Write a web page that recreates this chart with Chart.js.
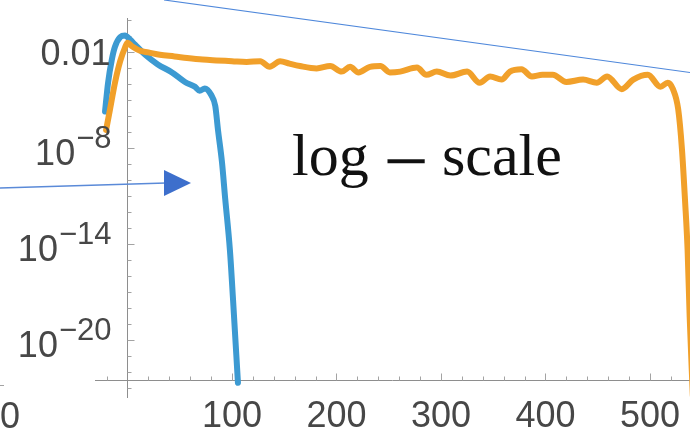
<!DOCTYPE html>
<html>
<head>
<meta charset="utf-8">
<script src="https://cdn.jsdelivr.net/npm/chart.js@4.4.1/dist/chart.umd.min.js"></script>
<style>
  html, body { margin: 0; padding: 0; background: #ffffff; }
  canvas { display: block; }
</style>
</head>
<body>
<canvas id="plot" width="690" height="437"></canvas>
<script>
// Blue curve: sample positions and log10 of the value at each
const blueX = [-21.5, -18.6, -15, -12, -7, -2.4, 2.4, 7, 17, 29, 42.6, 55, 64.6, 69, 74, 80, 84, 86.6, 90.4, 93.5, 98, 101, 105.7];
const blueLog10 = [-5.75, -3.95, -2.5, -1.7, -1.1, -1.0, -1.25, -1.55, -2.2, -2.8, -3.3, -3.9, -4.2, -4.45, -4.3, -4.7, -5.4, -6.9, -8.9, -11.2, -14.4, -17.5, -22.7];

// Orange curve: sample positions and log10 of the value at each
const orangeX = [-20.5, -16.7, -12, -7, -2.4, 0, 5, 12, 20, 31, 45, 57, 72, 85, 100, 114, 127, 136, 146, 155, 165, 181, 194, 205, 213, 221, 232, 242, 251, 261, 277, 286, 296, 309, 325, 337, 347, 358, 366, 377, 387, 397, 407, 420, 436, 449, 459, 473, 484, 498, 510, 517, 522, 527, 530.6, 533.5, 536, 538, 541];
const orangeLog10 = [-6.9, -5.6, -3.95, -2.6, -1.75, -1.45, -1.7, -1.95, -2.05, -2.2, -2.3, -2.4, -2.5, -2.55, -2.6, -2.65, -2.6, -2.95, -2.6, -2.75, -2.9, -3.05, -2.9, -3.25, -2.95, -3.3, -2.95, -2.9, -3.3, -3.25, -3.0, -3.45, -3.25, -3.5, -3.25, -3.95, -3.55, -3.75, -3.25, -3.1, -3.55, -3.45, -3.45, -3.9, -3.75, -3.95, -3.55, -4.35, -3.75, -3.45, -4.2, -3.95, -4.35, -5.6, -8.1, -11.25, -14.4, -18.6, -23.5];

// Axis ticks
const xTickLabels = [100, 200, 300, 400, 500];
const xMinorTicks = [-20, 20, 40, 60, 80, 120, 140, 160, 180, 220, 240, 260, 280, 320, 340, 360, 380, 420, 440, 460, 480, 520];
const yTickExponents = [-2, -8, -14, -20];
const yTickLabels = [['0.01', ''], ['10', '\u22128'], ['10', '\u221214'], ['10', '\u221220']];
const yMinorExponents = [0, -1, -3, -4, -5, -6, -7, -9, -10, -11, -12, -13, -15, -16, -17, -18, -19, -21, -22, -23];

// Plot range (log10 for the vertical axis) and where the axes cross
const xRange = [-31.1, 538.3];
const yRangeLog10 = [-23.65, 0.1];
const xAxisAtLog10 = -22.5;

const toPoints = (xs, ls) => xs.map((x, i) => ({ x: x, y: Math.pow(10, ls[i]) }));

const BLUE = '#3c9ad2';
const ORANGE = '#f1a02a';
const AXIS = '#8e8e8e';
const LABEL = '#474747';
const SANS = '"Liberation Sans", Arial, sans-serif';
const SERIF = '"Liberation Serif", "Times New Roman", serif';

const mathAxes = {
  id: 'mathAxes',
  beforeDatasetsDraw(chart) {
    const { ctx, chartArea: a, scales: { x, y } } = chart;
    const x0 = Math.round(x.getPixelForValue(0)) + 0.5;
    const y0 = Math.round(y.getPixelForValue(Math.pow(10, xAxisAtLog10))) + 0.5;
    ctx.save();
    ctx.lineWidth = 1;
    ctx.strokeStyle = AXIS;
    ctx.beginPath();
    ctx.moveTo(a.left, y0); ctx.lineTo(a.right, y0);
    ctx.moveTo(x0, a.top); ctx.lineTo(x0, a.bottom);
    ctx.stroke();

    ctx.strokeStyle = '#a3a3a3';
    ctx.beginPath();
    xTickLabels.forEach(v => {
      const px = Math.round(x.getPixelForValue(v)) + 0.5;
      ctx.moveTo(px, y0); ctx.lineTo(px, y0 - 7);
    });
    xMinorTicks.forEach(v => {
      const px = Math.round(x.getPixelForValue(v)) + 0.5;
      ctx.moveTo(px, y0); ctx.lineTo(px, y0 - 4);
    });
    yTickExponents.forEach(e => {
      const py = Math.round(y.getPixelForValue(Math.pow(10, e))) + 0.5;
      ctx.moveTo(x0, py); ctx.lineTo(x0 + 7, py);
    });
    yMinorExponents.forEach(e => {
      const py = Math.round(y.getPixelForValue(Math.pow(10, e))) + 0.5;
      ctx.moveTo(x0, py); ctx.lineTo(x0 + 4, py);
    });
    ctx.stroke();
    ctx.restore();
  },
  afterDraw(chart) {
    const { ctx, scales: { x, y } } = chart;
    const x0 = x.getPixelForValue(0);
    ctx.save();
    ctx.fillStyle = LABEL;

    // horizontal tick labels
    ctx.font = '36px ' + SANS;
    ctx.textAlign = 'center';
    ctx.textBaseline = 'alphabetic';
    xTickLabels.forEach(v => {
      ctx.fillText(String(v), x.getPixelForValue(v), 427);
    });
    // label and tick of the neighbouring panel at the left edge
    ctx.textAlign = 'right';
    ctx.fillText('500', 20, 428);
    ctx.strokeStyle = '#a3a3a3';
    ctx.beginPath(); ctx.moveTo(0, 385.5); ctx.lineTo(4, 385.5); ctx.stroke();

    // vertical tick labels, powers of ten with raised exponents
    const right = x0 - 16;
    yTickExponents.forEach((e, i) => {
      const py = y.getPixelForValue(Math.pow(10, e));
      const [base, sup] = yTickLabels[i];
      if (!sup) {
        ctx.font = '36px ' + SANS;
        ctx.textAlign = 'right';
        ctx.fillText(base, right - 1, py + 13);
        return;
      }
      ctx.font = '31px ' + SANS;
      ctx.textAlign = 'right';
      const supW = ctx.measureText(sup).width;
      ctx.fillText(sup, right, py + 0.5);
      ctx.font = '36px ' + SANS;
      ctx.fillText(base, right - supW - 1, py + 17.5);
    });

    // caption
    ctx.fillStyle = '#111111';
    ctx.font = '60px ' + SERIF;
    ctx.textAlign = 'left';
    ctx.fillText('log', 292, 175);
    ctx.fillText('scale', 442, 175);
    ctx.font = '80px ' + SERIF;
    ctx.textAlign = 'center';
    ctx.fillText('\u2212', 406, 188);

    // overlaid pointer lines
    ctx.strokeStyle = '#4f88db';
    ctx.lineWidth = 1.2;
    ctx.beginPath(); ctx.moveTo(164, 0); ctx.lineTo(690, 72.5); ctx.stroke();
    ctx.strokeStyle = '#5a8ad8';
    ctx.lineWidth = 1.6;
    ctx.beginPath(); ctx.moveTo(0, 188); ctx.lineTo(166, 183); ctx.stroke();
    ctx.fillStyle = '#3d6fcc';
    ctx.beginPath();
    ctx.moveTo(164, 170); ctx.lineTo(164, 196); ctx.lineTo(191, 183); ctx.closePath();
    ctx.fill();
    ctx.restore();
  }
};

new Chart(document.getElementById('plot'), {
  type: 'line',
  data: {
    datasets: [
      {
        label: 'orange',
        data: toPoints(orangeX, orangeLog10),
        borderColor: ORANGE,
        borderWidth: 6,
        order: 0
      },
      {
        label: 'blue',
        data: toPoints(blueX, blueLog10),
        borderColor: BLUE,
        borderWidth: 6,
        order: 1
      }
    ]
  },
  options: {
    responsive: false,
    animation: false,
    devicePixelRatio: 1,
    layout: { padding: { left: 95, right: 0, top: 18, bottom: 39 } },
    elements: {
      point: { radius: 0, hoverRadius: 0 },
      line: { fill: false, cubicInterpolationMode: 'monotone', borderCapStyle: 'round', borderJoinStyle: 'round' }
    },
    plugins: { legend: { display: false }, tooltip: { enabled: false } },
    events: [],
    scales: {
      x: { type: 'linear', min: xRange[0], max: xRange[1], display: false },
      y: { type: 'logarithmic', min: Math.pow(10, yRangeLog10[0]), max: Math.pow(10, yRangeLog10[1]), bounds: 'data', display: false }
    }
  },
  plugins: [mathAxes]
});
</script>
</body>
</html>
